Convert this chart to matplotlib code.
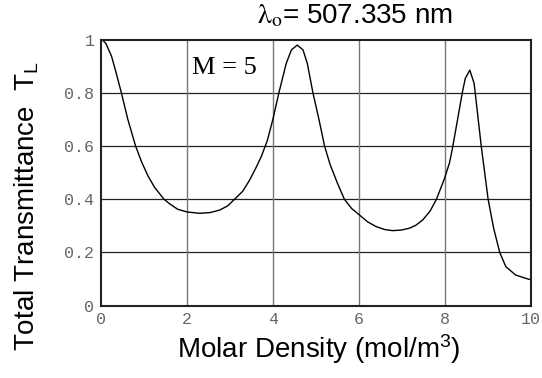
import matplotlib
matplotlib.use("Agg")
import matplotlib.pyplot as plt

# total transmittance vs molar density, M = 5 layers
density = [0.00, 0.04, 0.12, 0.25, 0.35, 0.48, 0.63, 0.81, 0.95, 1.10,
           1.25, 1.47, 1.60, 1.79, 2.01, 2.30, 2.55, 2.76, 2.95, 3.11,
           3.30, 3.46, 3.60, 3.73, 3.87, 4.00, 4.14, 4.31, 4.43, 4.565,
           4.70, 4.80, 4.93, 5.07, 5.20, 5.33, 5.50, 5.66, 5.83, 6.01,
           6.20, 6.40, 6.60, 6.78, 6.98, 7.17, 7.32, 7.48, 7.65, 7.80,
           7.98, 8.10, 8.17, 8.28, 8.40, 8.47, 8.575, 8.675, 8.70, 8.84,
           9.00, 9.13, 9.27, 9.41, 9.64, 9.95, 10.0]
transmittance = [1.000, 0.998, 0.985, 0.938, 0.880, 0.800, 0.700, 0.600, 0.540, 0.487,
                 0.445, 0.400, 0.383, 0.362, 0.352, 0.347, 0.350, 0.359, 0.375, 0.400,
                 0.430, 0.472, 0.516, 0.560, 0.620, 0.700, 0.800, 0.910, 0.961, 0.979,
                 0.961, 0.910, 0.800, 0.700, 0.600, 0.530, 0.460, 0.400, 0.365, 0.341,
                 0.315, 0.297, 0.286, 0.282, 0.284, 0.291, 0.302, 0.322, 0.355, 0.400,
                 0.475, 0.535, 0.590, 0.690, 0.800, 0.854, 0.885, 0.835, 0.800, 0.600,
                 0.400, 0.290, 0.200, 0.147, 0.115, 0.099, 0.098]

x_ticks = [0, 2, 4, 6, 8, 10]
y_ticks = [0, 0.2, 0.4, 0.6, 0.8, 1]
y_tick_labels = ["0", "0.2", "0.4", "0.6", "0.8", "1"]

plt.rcParams["font.family"] = ["Liberation Sans", "DejaVu Sans"]
plt.rcParams["mathtext.fontset"] = "custom"
plt.rcParams["mathtext.rm"] = "Liberation Sans"
plt.rcParams["mathtext.it"] = "Liberation Sans:italic"

fig = plt.figure(figsize=(5.42, 3.78), dpi=100)
ax = fig.add_axes([0.1858, 0.1913, 0.7942, 0.7042])

ax.plot(density, transmittance, color="black", lw=1.0)

ax.set_xlim(0, 10)
ax.set_ylim(0, 1)
ax.set_xticks(x_ticks)
ax.set_yticks(y_ticks)
ax.set_yticklabels(y_tick_labels)

# horizontal grid darker than vertical
for y in y_ticks[1:-1]:
    ax.axhline(y, color="#222222", lw=0.9, zorder=0)
for x in x_ticks[1:-1]:
    ax.axvline(x, color="#777777", lw=1.0, zorder=0)

ax.tick_params(length=0, pad=4.5, labelcolor="#666666", labelsize=12)
for lab in ax.get_xticklabels() + ax.get_yticklabels():
    lab.set_fontfamily("Liberation Mono")
for s in ax.spines.values():
    s.set_linewidth(1.5)
    s.set_color("#222222")

ax.set_xlabel("Molar Density (mol/m$^3$)", fontsize=20, va="baseline")
ax.xaxis.set_label_coords(0.506, -0.196)
ax.set_ylabel("Total Transmittance  T$_\\mathrm{L}$", fontsize=20, va="center")
ax.yaxis.set_label_coords(-0.171, 0.375)

fig.text(0.655, 0.937, r"$\mathrm{\lambda}_{\mathrm{o}}$= 507.335 nm", fontsize=20,
         ha="center", va="baseline", math_fontfamily="stix")
ax.text(2.12, 0.87, "M = 5", fontsize=19, family="Liberation Serif",
        ha="left", va="baseline")

fig.savefig("out.png", dpi=100)
